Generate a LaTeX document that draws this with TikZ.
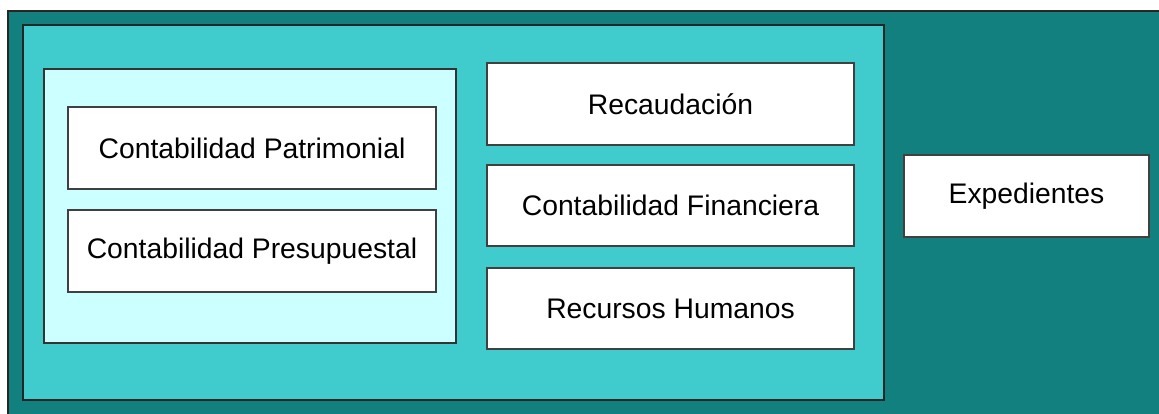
\documentclass[tikz,border=0pt]{standalone}
\usepackage{fontspec}
\setmainfont{Liberation Sans}
\usepackage{xcolor}
\definecolor{tealdark}{HTML}{138080}
\definecolor{tealmid}{HTML}{40CCCC}
\definecolor{cyanlight}{HTML}{CCFFFF}
\usepackage{tikz}

\begin{document}
\begin{tikzpicture}[x=1pt, y=-1pt,
        modulo/.style={draw=black!75, line width=1.2pt, fill=white, inner sep=0pt,
            font=\fontsize{28.3}{34}\selectfont},
        marco/.style={draw=black!85, line width=1.8pt}]
            \useasboundingbox (0, 0) rectangle (1159, 414);

            \fill[white] (0, 0) rectangle (1159, 414);
            \draw[marco, fill=tealdark] (8, 11) rectangle (1175, 430);
            \draw[marco, fill=tealmid] (23, 25) rectangle (884, 400);
            \draw[marco, draw=black!80, line width=1.2pt, fill=cyanlight] (44, 69) rectangle (456, 343);

            \node (patrimonial) at (252, 148) [modulo, minimum width=368pt, minimum height=82pt] {Contabilidad Patrimonial};
            \node (presupuestal) at (252, 251) [modulo, minimum width=368pt, minimum height=82pt] {Contabilidad Presupuestal};

            \node (recaudacion) at (670.5, 104) [modulo, minimum width=367pt, minimum height=82pt] {Recaudación};
            \node (financiera) at (670.5, 205.5) [modulo, minimum width=367pt, minimum height=81pt] {Contabilidad Financiera};
            \node (humanos) at (670.5, 308.5) [modulo, minimum width=367pt, minimum height=81pt] {Recursos Humanos};

            \node (expedientes) at (1026.5, 196) [modulo, minimum width=245pt, minimum height=82pt] {Expedientes};
        \end{tikzpicture}
\end{document}
